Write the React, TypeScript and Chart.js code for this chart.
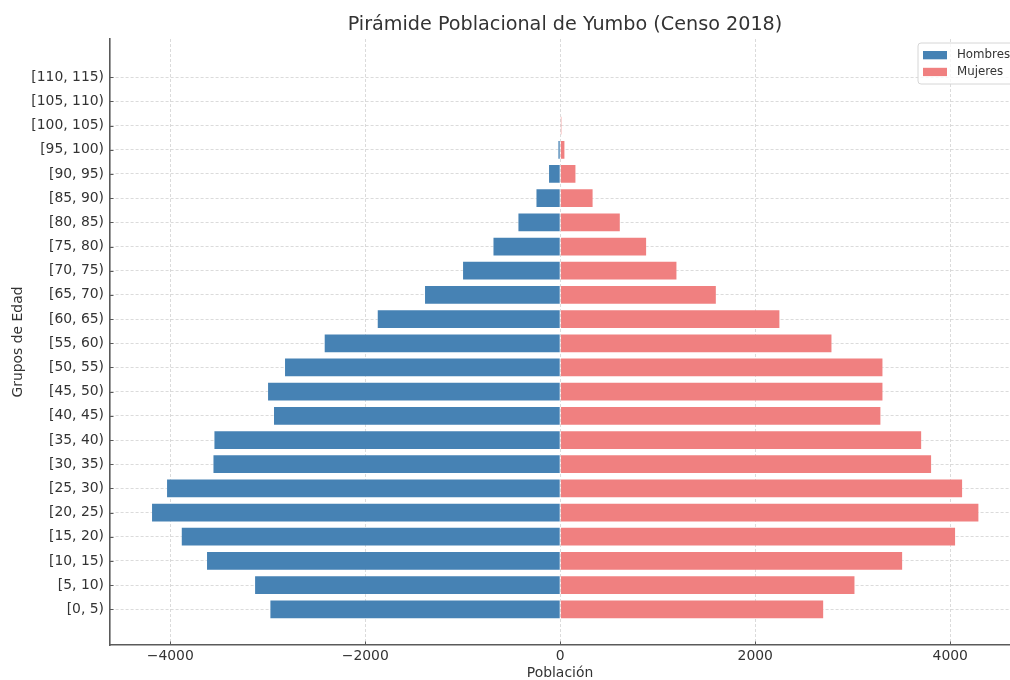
import React, { useEffect, useRef } from "react";
import { Chart, registerables } from "chart.js";

Chart.register(...registerables);

const categories = [
  "[0, 5)", "[5, 10)", "[10, 15)", "[15, 20)", "[20, 25)", "[25, 30)",
  "[30, 35)", "[35, 40)", "[40, 45)", "[45, 50)", "[50, 55)", "[55, 60)",
  "[60, 65)", "[65, 70)", "[70, 75)", "[75, 80)", "[80, 85)", "[85, 90)",
  "[90, 95)", "[95, 100)", "[100, 105)", "[105, 110)", "[110, 115)",
];
const hombres = [
  2981, 3138, 3631, 3890, 4195, 4041, 3565, 3555, 2944, 3005, 2831, 2424,
  1880, 1395, 1005, 693, 437, 252, 123, 27, 4, 0, 0,
];
const mujeres = [
  2705, 3026, 3515, 4058, 4297, 4130, 3812, 3710, 3292, 3313, 3313, 2790,
  2256, 1604, 1200, 889, 619, 340, 164, 51, 18, 0, 3,
];
const xTicks = [-4000, -2000, 0, 2000, 4000];
const seriesNames = ["Hombres", "Mujeres"];
const seriesColors = ["#4682B4", "#F08080"];

const TITLE = "Pirámide Poblacional de Yumbo (Censo 2018)";
const FONT = "'DejaVu Sans', sans-serif";
const SPINE = "#5a5a5a";
const TXT = "#333";

const decorPlugin = {
  id: "decor",
  afterDraw(chart: any) {
    const ctx = chart.ctx as CanvasRenderingContext2D;
    const area = chart.chartArea;
    const xs = chart.scales.x;
    const ys = chart.scales.y;
    ctx.save();
    // inward tick marks
    ctx.strokeStyle = SPINE;
    ctx.lineWidth = 1;
    categories.forEach((_, i) => {
      const y = Math.round(ys.getPixelForValue(i)) + 0.5;
      ctx.beginPath();
      ctx.moveTo(area.left, y);
      ctx.lineTo(area.left + 3.5, y);
      ctx.stroke();
    });
    xTicks.forEach((v) => {
      const x = Math.round(xs.getPixelForValue(v)) + 0.5;
      ctx.beginPath();
      ctx.moveTo(x, area.bottom);
      ctx.lineTo(x, area.bottom - 3.5);
      ctx.stroke();
    });
    // title
    ctx.fillStyle = TXT;
    ctx.font = `19.2px ${FONT}`;
    ctx.textAlign = "center";
    ctx.textBaseline = "middle";
    ctx.fillText(TITLE, 565, 25);
    // legend
    const lx = 918, ly = 43, lw = 104, lh = 41;
    ctx.beginPath();
    const r = 3;
    ctx.moveTo(lx + r, ly);
    ctx.lineTo(lx + lw - r, ly);
    ctx.arcTo(lx + lw, ly, lx + lw, ly + r, r);
    ctx.lineTo(lx + lw, ly + lh - r);
    ctx.arcTo(lx + lw, ly + lh, lx + lw - r, ly + lh, r);
    ctx.lineTo(lx + r, ly + lh);
    ctx.arcTo(lx, ly + lh, lx, ly + lh - r, r);
    ctx.lineTo(lx, ly + r);
    ctx.arcTo(lx, ly, lx + r, ly, r);
    ctx.closePath();
    ctx.fillStyle = "rgba(255,255,255,0.8)";
    ctx.fill();
    ctx.strokeStyle = "#d6d6d6";
    ctx.lineWidth = 1;
    ctx.stroke();
    ctx.font = `11.8px ${FONT}`;
    ctx.textAlign = "left";
    ctx.textBaseline = "middle";
    seriesNames.forEach((name, i) => {
      const cy = 55 + i * 16.8;
      ctx.fillStyle = seriesColors[i];
      ctx.fillRect(923, cy - 4, 24, 8.3);
      ctx.fillStyle = TXT;
      ctx.fillText(name, 957, cy);
    });
    ctx.restore();
  },
};

export default function App() {
  const ref = useRef<HTMLCanvasElement>(null);

  useEffect(() => {
    if (!ref.current) return;
    Chart.defaults.font.family = FONT;
    const chart = new Chart(ref.current, {
      type: "bar",
      data: {
        datasets: [
          {
            label: seriesNames[0],
            data: hombres.map((v, i) => ({ x: -v, y: i })),
            backgroundColor: seriesColors[0],
            borderColor: "rgba(255,255,255,0.28)",
            borderWidth: 0.8,
            borderSkipped: "start",
          },
          {
            label: seriesNames[1],
            data: mujeres.map((v, i) => ({ x: v, y: i })),
            backgroundColor: seriesColors[1],
            borderColor: "rgba(255,255,255,0.28)",
            borderWidth: 0.8,
            borderSkipped: "start",
          },
        ],
      },
      options: {
        indexAxis: "y",
        responsive: false,
        animation: false,
        devicePixelRatio: 1,
        categoryPercentage: 1,
        barPercentage: 0.8,
        layout: { padding: { top: 39, left: 0, right: 0, bottom: 0 } },
        plugins: {
          legend: { display: false },
          title: { display: false },
          tooltip: { enabled: false },
        },
        scales: {
          x: {
            type: "linear",
            stacked: true,
            offset: false,
            min: -4618,
            max: 4613,
            afterBuildTicks: (s: any) => {
              s.ticks = xTicks.map((v) => ({ value: v }));
            },
            afterFit: (s: any) => {
              s.height = 35;
            },
            grid: {
              color: "#d2d2d2",
              lineWidth: 0.8,
              drawTicks: false,
              offset: false,
            },
            border: { display: true, color: SPINE, width: 1.6, dash: [3, 2] },
            ticks: {
              color: TXT,
              font: { size: 13.9 },
              padding: 3,
              maxRotation: 0,
              callback: (v: any) =>
                v < 0 ? "\u2212" + Math.abs(v) : String(v),
            },
            title: {
              display: true,
              text: "Población",
              color: TXT,
              font: { size: 13.9, lineHeight: 1 },
              padding: { top: 0, bottom: 0 },
            },
          },
          y: {
            type: "linear",
            stacked: true,
            offset: false,
            min: -1.476,
            max: 23.58,
            afterBuildTicks: (s: any) => {
              s.ticks = categories.map((_, i) => ({ value: i }));
            },
            afterFit: (s: any) => {
              s.width = 110;
            },
            grid: {
              color: "#d2d2d2",
              lineWidth: 0.8,
              drawTicks: false,
              offset: false,
            },
            border: { display: true, color: SPINE, width: 1.6, dash: [3, 2] },
            ticks: {
              color: TXT,
              font: { size: 13.9 },
              padding: 6,
              callback: (v: any) => categories[v] ?? "",
            },
            title: {
              display: true,
              text: "Grupos de Edad",
              color: TXT,
              font: { size: 13.9, lineHeight: 1 },
              padding: { top: 11, bottom: 0 },
            },
          },
        },
      },
      plugins: [decorPlugin],
    });
    return () => chart.destroy();
  }, []);

  return (
    <div
      style={{
        position: "absolute",
        left: 0,
        top: 0,
        width: 1010,
        height: 680,
        background: "#fff",
      }}
    >
      <canvas ref={ref} width={1010} height={680} />
    </div>
  );
}
